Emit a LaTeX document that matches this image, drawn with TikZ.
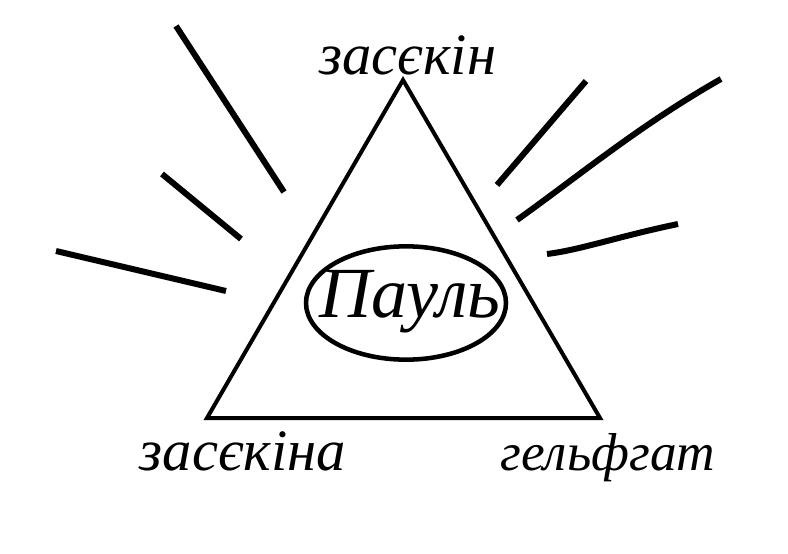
\documentclass[tikz,border=0pt]{standalone}
\usepackage{fontspec}
\setmainfont{Liberation Serif}
\usetikzlibrary{shapes.geometric, positioning, calc}
\tikzstyle{handtext} = [font=\itshape\fontsize{44}{44}\selectfont, inner sep=0pt]
\tikzstyle{ray} = [line width=4.5pt, line cap=butt]
\tikzstyle{namering} = [ellipse, draw=black, line width=3.4pt, minimum width=150pt, minimum height=85pt, inner sep=0pt]

\begin{document}
\begin{tikzpicture}[x=0.75pt, y=-0.75pt]
\useasboundingbox (0,0) rectangle (788,553);

% Triangle
\coordinate (apex) at (403,80);
\coordinate (left) at (207,418);
\coordinate (right) at (600,418);
\draw [line width=3pt, line join=miter] (apex) -- (right) -- (left) -- cycle;

% Nodes
\node (center) [namering] at (406,303) {};
\node (paul) [handtext, font=\itshape\fontsize{54}{54}\selectfont] at (410,302) {Пауль};
\node (top) [handtext, anchor=base] at (408,74) {засєкін};
\node (bleft) [handtext, anchor=base] at (243,470) {засєкіна};
\node (bright) [handtext, font=\itshape\fontsize{40}{40}\selectfont, anchor=base] at (608,470) {гельфгат};

% Rays
\draw [ray] (176,26) -- (284,192);
\draw [ray] (162,174) -- (241,239);
\draw [ray] (56,251) -- (226,291);
\draw [ray] (586,81) -- (497,185);
\draw [ray] (721,79) .. controls (640,125) and (580,175) .. (517,220);
\draw [ray] (678,224) .. controls (620,236) and (580,250) .. (547,254);

\end{tikzpicture}
\end{document}
